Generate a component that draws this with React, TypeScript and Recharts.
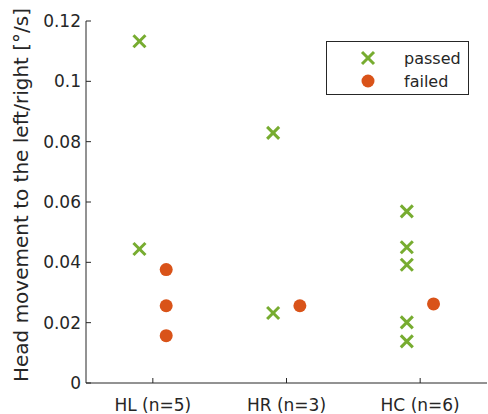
import React from 'react';
import { ScatterChart, Scatter, XAxis, YAxis, Legend } from 'recharts';

const categories = ['HL (n=5)', 'HR (n=3)', 'HC (n=6)'];
const passedValues = [
  [0.1133, 0.0444],
  [0.0829, 0.0232],
  [0.0569, 0.045, 0.0392, 0.0201, 0.0138],
];
const failedValues = [[0.0376, 0.0256, 0.0157], [0.0256], [0.0262]];
const yTicks = [0, 0.02, 0.04, 0.06, 0.08, 0.1, 0.12];

const GREEN = '#77AC30';
const ORANGE = '#D95319';
const INK = '#262626';
const FONT = "'DejaVu Sans', sans-serif";

// passed markers sit a bit left of the category, failed a bit right
const toPoints = (groups: number[][], shift: number) =>
  groups.flatMap((vals, i) => vals.map((v) => ({ x: i + 1 + shift, y: v })));

const passedData = toPoints(passedValues, -0.1);
const failedData = toPoints(failedValues, 0.1);

const Cross = (props: any) => {
  const { cx, cy } = props;
  const s = 6;
  return (
    <g stroke={GREEN} strokeWidth={3}>
      <line x1={cx - s} y1={cy - s} x2={cx + s} y2={cy + s} />
      <line x1={cx - s} y1={cy + s} x2={cx + s} y2={cy - s} />
    </g>
  );
};

const Dot = (props: any) => {
  const { cx, cy } = props;
  return <circle cx={cx} cy={cy} r={6.5} fill={ORANGE} />;
};

const LegendBox = () => (
  <div
    style={{
      width: 141,
      height: 52,
      border: `1px solid ${INK}`,
      background: '#fff',
      fontFamily: FONT,
      fontSize: 16,
      color: INK,
      position: 'relative',
    }}>
    <svg width={141} height={52} style={{ position: 'absolute', left: 0, top: 0 }}>
      <Cross cx={41} cy={16} />
      <Dot cx={41} cy={39} />
      <text x={77} y={16} dominantBaseline="central" fill={INK} fontSize={16}>
        passed
      </text>
      <text x={77} y={39} dominantBaseline="central" fill={INK} fontSize={16}>
        failed
      </text>
    </svg>
  </div>
);

const YTitle = () => (
  <text
    transform="translate(28,195) rotate(-90)"
    textAnchor="middle"
    fill={INK}
    fontSize={20}
    fontFamily={FONT}>
    Head movement to the left/right [°/s]
  </text>
);

export default function App() {
  return (
    <div style={{ position: 'absolute', left: 0, top: 0, fontFamily: FONT }}>
      <ScatterChart width={488} height={414} margin={{ top: 21, right: 1, bottom: 0, left: 0 }}>
        <XAxis
          type="number"
          dataKey="x"
          domain={[0.5, 3.5]}
          ticks={[1, 2, 3]}
          tickFormatter={(v: number) => categories[v - 1] ?? ''}
          height={31}
          stroke={INK}
          tickSize={-5}
          tickMargin={21}
          tick={{ fontSize: 17, fill: INK }}
          interval={0}
        />
        <XAxis
          xAxisId="top"
          orientation="top"
          type="number"
          domain={[0.5, 3.5]}
          ticks={[1, 2, 3]}
          height={0}
          stroke={INK}
          tickSize={-5}
          tick={false}
        />
        <YAxis
          type="number"
          dataKey="y"
          domain={[0, 0.12]}
          ticks={yTicks}
          width={86}
          stroke={INK}
          tickSize={-5}
          tickMargin={10}
          tick={{ fontSize: 17, fill: INK }}
          interval={0}
          label={{ content: () => <YTitle /> }}
        />
        <YAxis
          yAxisId="right"
          orientation="right"
          type="number"
          domain={[0, 0.12]}
          ticks={yTicks}
          width={0}
          stroke={INK}
          tickSize={-5}
          tick={false}
        />
        <Legend
          layout="vertical"
          align="center"
          verticalAlign="middle"
          content={() => <LegendBox />}
          wrapperStyle={{ position: 'absolute', left: 326, top: 41, width: 143, height: 54 }}
        />
        <Scatter name="passed" data={passedData} shape={<Cross />} isAnimationActive={false} />
        <Scatter name="failed" data={failedData} shape={<Dot />} isAnimationActive={false} />
      </ScatterChart>
    </div>
  );
}
